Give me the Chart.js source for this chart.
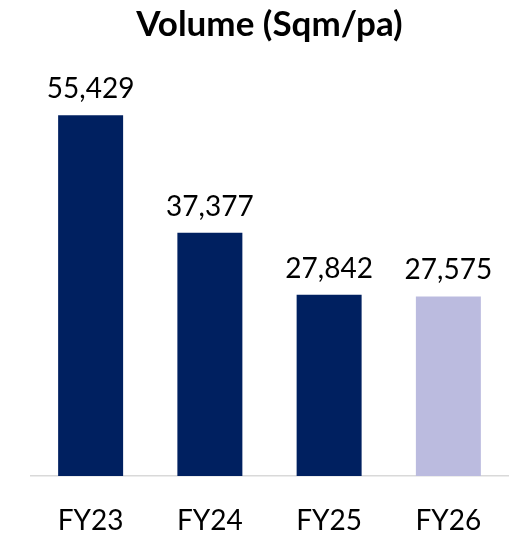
<!DOCTYPE html>
<html>
<head>
<meta charset="utf-8">
<script src="https://cdn.jsdelivr.net/npm/chart.js@4"></script>
<style>
  body { margin: 0; background: #fff; }
</style>
</head>
<body>
<canvas id="volumeChart" width="523" height="536"></canvas>
<script>
// chart data
const categories = ["FY23", "FY24", "FY25", "FY26"];
const volumes = [55429, 37377, 27842, 27575];
const barColors = ["#002060", "#002060", "#002060", "#BBBBDF"];
const yMax = 63900;

// value labels above each bar
const barLabels = {
  id: "barLabels",
  afterDatasetsDraw(chart) {
    const ctx = chart.ctx;
    const meta = chart.getDatasetMeta(0);
    ctx.save();
    ctx.font = "28px Lato";
    ctx.fillStyle = "#000";
    ctx.textAlign = "center";
    ctx.textBaseline = "alphabetic";
    meta.data.forEach((bar, i) => {
      ctx.fillText(volumes[i].toLocaleString("en-US"), bar.x, bar.y - 17);
    });
    ctx.restore();
  }
};

new Chart(document.getElementById("volumeChart"), {
  type: "bar",
  data: {
    labels: categories,
    datasets: [{
      data: volumes,
      backgroundColor: barColors,
      barPercentage: 0.545,
      categoryPercentage: 1
    }]
  },
  options: {
    responsive: false,
    animation: false,
    layout: { padding: { left: 31, right: 15, top: 0, bottom: 0 } },
    plugins: {
      legend: { display: false },
      tooltip: { enabled: false },
      title: {
        display: true,
        text: "Volume (Sqm/pa)",
        color: "#000",
        font: { family: "Lato", size: 35, weight: "bold" },
        padding: { top: 4, bottom: 14 }
      }
    },
    scales: {
      x: {
        grid: { display: false, drawTicks: false },
        border: { color: "#d9d9d9", width: 1.5 },
        ticks: { color: "#000", font: { family: "Lato", size: 28 }, padding: 28 },
        afterFit(scale) { scale.height = 60; }
      },
      y: { display: false, min: 0, max: yMax }
    }
  },
  plugins: [barLabels]
});
</script>
</body>
</html>
